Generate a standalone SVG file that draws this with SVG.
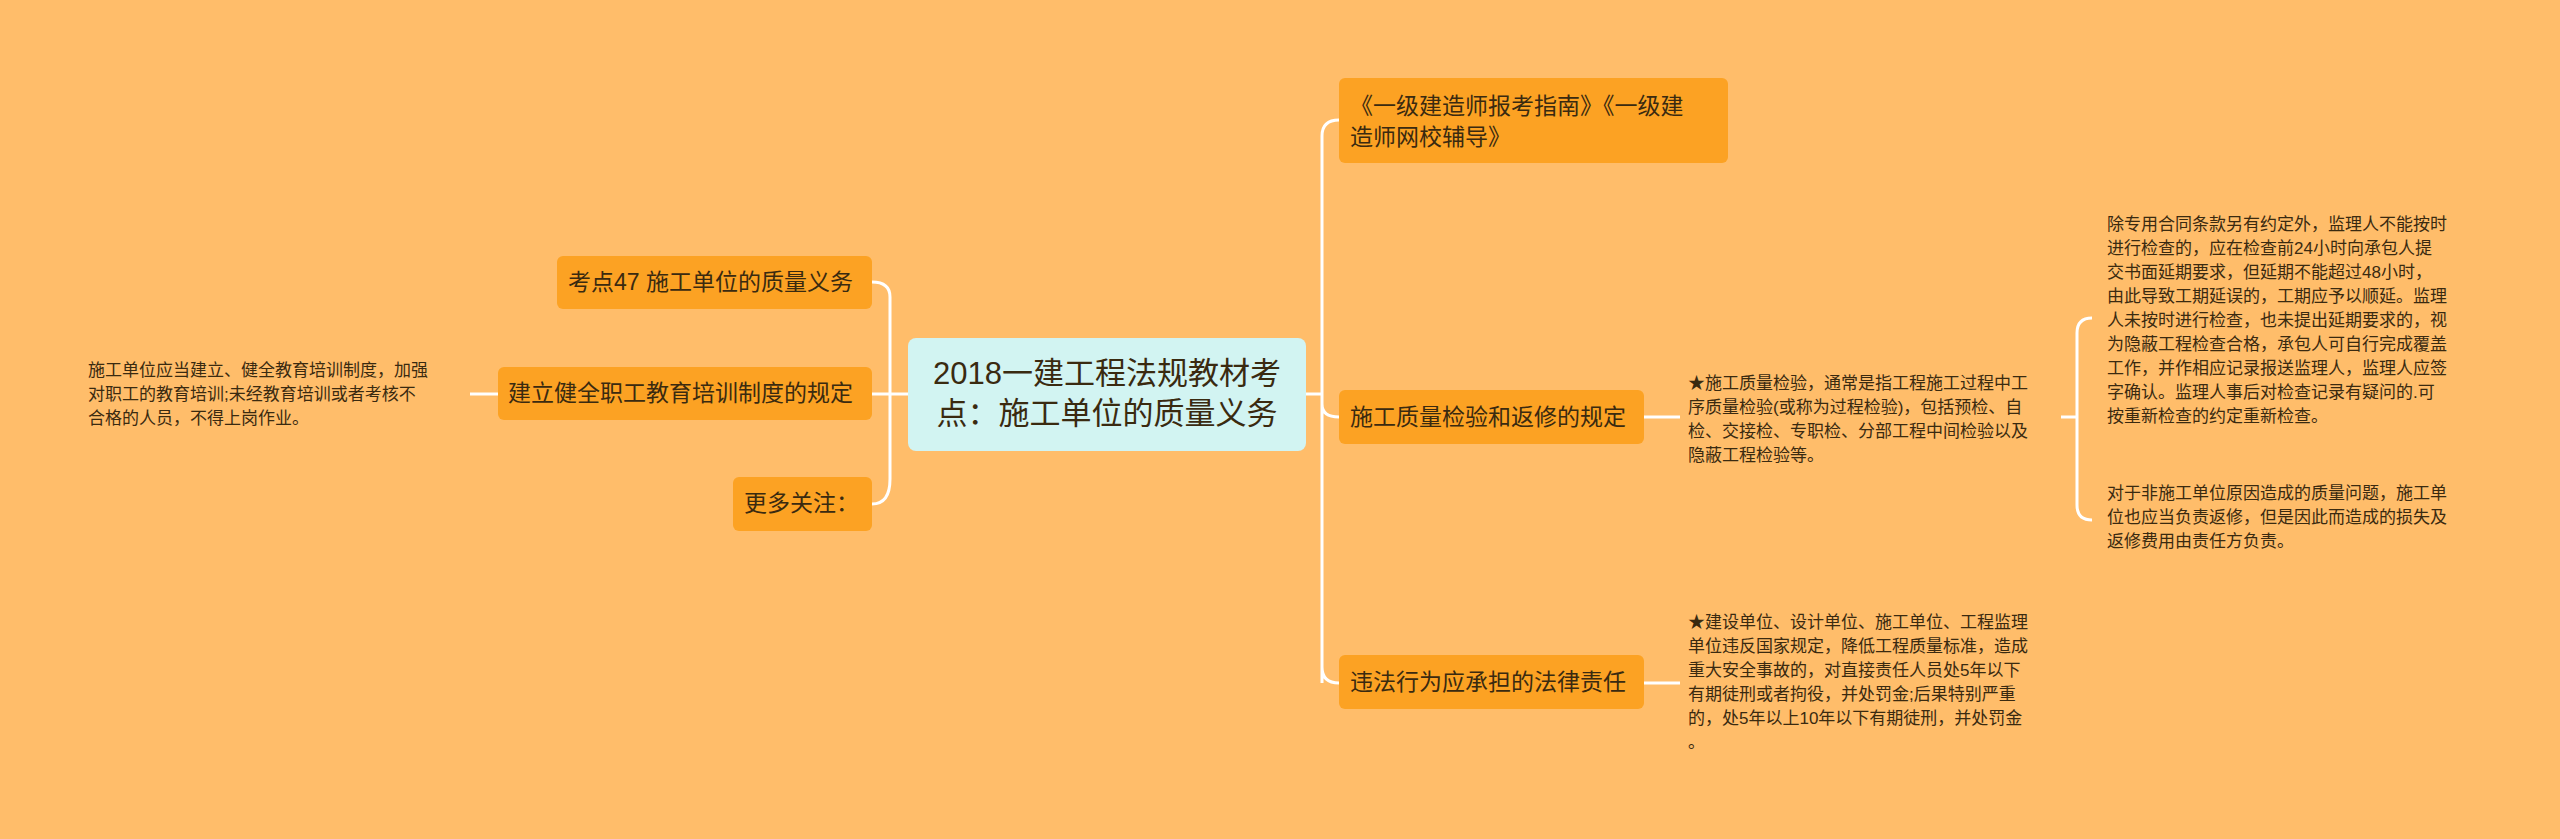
<svg xmlns="http://www.w3.org/2000/svg" width="2560" height="839" viewBox="0 0 2560 839">
<style>
.b{fill:#FCA223;}
.t{font-family:"Liberation Sans","Noto Sans CJK SC",sans-serif;fill:#3a2a10;}
.bt{font-size:23px;}
.st{font-size:17px;}
.c{fill:none;stroke:#FFFFFF;stroke-width:3;}
</style>
<rect width="2560" height="839" fill="#FFBD6A"/>
<g id="connectors">
<path class="c" d="M1306 394 H1322 M1322 136 V683 M1322 136 Q1322 120 1339 120 M1322 404 Q1322 417 1339 417 M1322 667 Q1322 683 1339 683"/>
<path class="c" d="M908 394 H890 M890 297 V479 M890 297 Q890 282 872 282 M890 479 Q890 504 872 504 M872 394 H890"/>
<path class="c" d="M498 394 H470"/>
<path class="c" d="M1644 417 H1680 M1644 683 H1680"/>
<path class="c" d="M2061 417 H2077 M2077 333 V505 M2077 333 Q2077 318 2092 318 M2077 505 Q2077 520 2092 520"/>
</g>
<g id="center"><rect x="908" y="338" width="398" height="113" rx="8" fill="#D2F4F2"/>
<text class="t" font-size="31" text-anchor="middle"><tspan x="1107" y="384">2018一建工程法规教材考</tspan><tspan x="1107" y="424">点：施工单位的质量义务</tspan></text></g>
<g id="n1"><rect class="b" x="1339" y="78" width="389" height="85" rx="6"/>
<text class="t bt"><tspan x="1350" y="114">《一级建造师报考指南》《一级建</tspan><tspan x="1350" y="145">造师网校辅导》</tspan></text></g>
<g id="n2"><rect class="b" x="1339" y="390" width="305" height="54" rx="6"/>
<text class="t bt" x="1350" y="425">施工质量检验和返修的规定</text></g>
<g id="n3"><rect class="b" x="1339" y="655" width="305" height="54" rx="6"/>
<text class="t bt" x="1350" y="690">违法行为应承担的法律责任</text></g>
<g id="n4"><rect class="b" x="557" y="256" width="315" height="53" rx="6"/>
<text class="t bt" x="568" y="290">考点47 施工单位的质量义务</text></g>
<g id="n5"><rect class="b" x="498" y="367" width="374" height="53" rx="6"/>
<text class="t bt" x="508" y="401">建立健全职工教育培训制度的规定</text></g>
<g id="n6"><rect class="b" x="733" y="477" width="139" height="54" rx="6"/>
<text class="t bt" x="744" y="511">更多关注：</text></g>
<g id="t1"><text class="t st"><tspan x="88" y="376">施工单位应当建立、健全教育培训制度，加强</tspan><tspan x="88" y="400">对职工的教育培训;未经教育培训或者考核不</tspan><tspan x="88" y="424">合格的人员，不得上岗作业。</tspan></text></g>
<g id="t2"><text class="t st"><tspan x="1688" y="389">★施工质量检验，通常是指工程施工过程中工</tspan><tspan x="1688" y="413">序质量检验(或称为过程检验)，包括预检、自</tspan><tspan x="1688" y="437">检、交接检、专职检、分部工程中间检验以及</tspan><tspan x="1688" y="461">隐蔽工程检验等。</tspan></text></g>
<g id="t3"><text class="t st"><tspan x="2107" y="230">除专用合同条款另有约定外，监理人不能按时</tspan><tspan x="2107" y="254">进行检查的，应在检查前24小时向承包人提</tspan><tspan x="2107" y="278">交书面延期要求，但延期不能超过48小时，</tspan><tspan x="2107" y="302">由此导致工期延误的，工期应予以顺延。监理</tspan><tspan x="2107" y="326">人未按时进行检查，也未提出延期要求的，视</tspan><tspan x="2107" y="350">为隐蔽工程检查合格，承包人可自行完成覆盖</tspan><tspan x="2107" y="374">工作，并作相应记录报送监理人，监理人应签</tspan><tspan x="2107" y="398">字确认。监理人事后对检查记录有疑问的.可</tspan><tspan x="2107" y="422">按重新检查的约定重新检查。</tspan></text></g>
<g id="t4"><text class="t st"><tspan x="2107" y="499">对于非施工单位原因造成的质量问题，施工单</tspan><tspan x="2107" y="523">位也应当负责返修，但是因此而造成的损失及</tspan><tspan x="2107" y="547">返修费用由责任方负责。</tspan></text></g>
<g id="t5"><text class="t st"><tspan x="1688" y="628">★建设单位、设计单位、施工单位、工程监理</tspan><tspan x="1688" y="652">单位违反国家规定，降低工程质量标准，造成</tspan><tspan x="1688" y="676">重大安全事故的，对直接责任人员处5年以下</tspan><tspan x="1688" y="700">有期徒刑或者拘役，并处罚金;后果特别严重</tspan><tspan x="1688" y="724">的，处5年以上10年以下有期徒刑，并处罚金</tspan><tspan x="1688" y="748">。</tspan></text></g>
</svg>
